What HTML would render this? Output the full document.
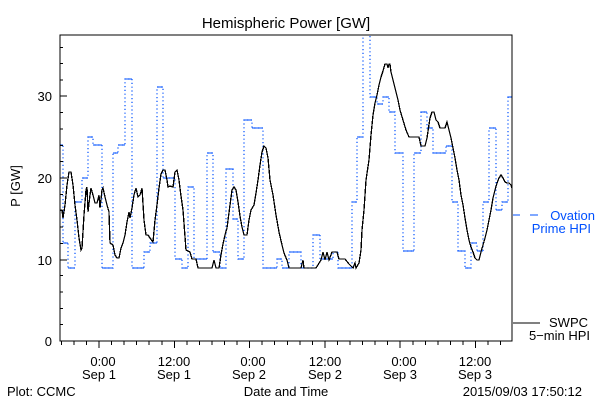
<!DOCTYPE html>
<html><head><meta charset="utf-8"><style>
html,body{margin:0;padding:0;background:#fff;}
svg{display:block;font-family:"Liberation Sans","DejaVu Sans",sans-serif;}
</style></head><body>
<svg width="600" height="400" viewBox="0 0 600 400" xmlns="http://www.w3.org/2000/svg">
<defs><clipPath id="c"><rect x="60" y="35" width="452" height="306"/></clipPath></defs>
<rect width="600" height="400" fill="#fff"/>
<text x="286" y="28" font-size="15" text-anchor="middle" fill="#000">Hemispheric Power [GW]</text>
<g clip-path="url(#c)" fill="none">
<polyline stroke="#0050ff" stroke-width="1.2" stroke-dasharray="1.2 2.6" points="60,145 63,145 63,243 68,243 68,268 75,268 75,202 82,202 82,178 88,178 88,137 93,137 93,145 102,145 102,268 113,268 113,153 118,153 118,145 125,145 125,79 132,79 132,268 144,268 144,252 150,252 150,243 157,243 157,87 163,87 163,178 175,178 175,259 182,259 182,268 188,268 188,187 194,187 194,259 207,259 207,153 213,153 213,252 220,252 220,268 226,268 226,169 233,169 233,219 238,219 238,259 244,259 244,120 252,120 252,128 263,128 263,268 277,268 277,259 282,259 282,268 289,268 289,252 301,252 301,268 313,268 313,235 320,235 320,259 333,259 333,252 338,252 338,268 352,268 352,202 357,202 357,137 363,137 363,20 370,20 370,97 377,97 377,104 383,104 383,97 389,97 389,112 395,112 395,153 403,153 403,251 414,251 414,153 421,153 421,112 427,112 427,128 433,128 433,153 446,153 446,146 452,146 452,202 458,202 458,251 465,251 465,268 471,268 471,243 477,243 477,251 483,251 483,202 489,202 489,128 496,128 496,210 502,210 502,202 508,202 508,97 512,97"/>
<g shape-rendering="crispEdges">
<path stroke="#0050ff" stroke-width="1.4" d="M60 145H63M63 243H68M68 268H75M75 202H82M82 178H88M88 137H93M93 145H102M102 268H113M113 153H118M118 145H125M125 79H132M132 268H144M144 252H150M150 243H157M157 87H163M163 178H175M175 259H182M182 268H188M188 187H194M194 259H207M207 153H213M213 252H220M220 268H226M226 169H233M233 219H238M238 259H244M244 120H252M252 128H263M263 268H277M277 259H282M282 268H289M289 252H301M301 268H313M313 235H320M320 259H333M333 252H338M338 268H352M352 202H357M357 137H363M370 97H377M377 104H383M383 97H389M389 112H395M395 153H403M403 251H414M414 153H421M421 112H427M427 128H433M433 153H446M446 146H452M452 202H458M458 251H465M465 268H471M471 243H477M477 251H483M483 202H489M489 128H496M496 210H502M502 202H508M508 97H512"/>
<polyline stroke="#000" stroke-width="1.3" points="60,210 62,210 63,218 65,205 67,185 69,172 71,172 73,185 75,205 77,220 79,238 81,250 82,248 84,215 86,190 87,187 88,212 90,195 91,188 93,195 95,203 97,203 99,195 100,208 102,190 103,188 105,197 107,205 109,212 110,243 113,245 115,255 117,258 119,258 121,248 123,243 125,235 127,222 129,212 130,218 132,208 134,195 136,188 138,197 140,195 142,188 144,220 146,235 148,235 150,238 153,242 155,220 157,205 159,188 161,174 163,170 165,170 167,180 168,187 170,186 173,187 175,172 177,170 179,180 181,196 183,210 186,250 188,251 190,252 192,259 196,259 198,268 212,268 214,260 216,268 219,268 221,255 223,244 225,235 227,228 230,205 232,190 234,187 236,190 238,202 240,216 242,227 244,235 247,235 249,220 251,210 254,205 256,193 258,180 260,165 262,152 264,146 266,148 268,158 270,180 273,195 276,215 279,232 282,245 284,253 287,260 289,268 301,268 303,260 304,268 316,268 321,260 323,252 325,260 327,252 329,260 332,252 337,252 339,259 345,259 349,264 353,268 355,263 356,268 359,263 361,250 362,230 364,210 366,180 369,160 371,135 373,115 375,103 377,95 378,90 379,85 381,77 383,71 385,64 387,64 388,68 389,64 390,64 391,72 393,80 395,88 398,100 400,110 403,120 406,130 409,137 419,137 421,146 425,146 427,138 430,118 432,112 434,112 436,120 438,122 440,128 445,128 447,122 449,130 451,138 453,148 455,158 457,170 459,180 461,195 463,205 465,218 467,230 469,240 471,247 473,252 475,258 477,260 479,260 481,252 483,245 485,238 487,230 489,220 491,210 493,198 495,190 497,183 499,178 501,175 503,178 505,182 507,183 509,183 511,185 512,188"/>
</g>
</g>
<g shape-rendering="crispEdges">
<path fill="none" stroke="#000" stroke-width="1.3" d="M60 35H512V341H60Z"/>
<path fill="none" stroke="#000" stroke-width="1" d="M60 341H67M60 260H67M60 178H67M60 96H67M60 324.6H63M60 308.3H63M60 292H63M60 275.6H63M60 243.3H63M60 227H63M60 210.6H63M60 194.3H63M60 161.6H63M60 145.3H63M60 129H63M60 112.6H63M60 80H63M60 63.6H63M60 47.3H63
M99 341V348M174.3 341V348M249.6 341V348M324.9 341V348M400.2 341V348M475.5 341V348
M61.4 341V345M74 341V345M86.5 341V345M111.6 341V345M124.1 341V345M136.7 341V345M149.2 341V345M161.8 341V345M186.9 341V345M199.4 341V345M212 341V345M224.5 341V345M237.1 341V345M262.2 341V345M274.7 341V345M287.3 341V345M299.8 341V345M312.4 341V345M337.5 341V345M350 341V345M362.6 341V345M375.1 341V345M387.7 341V345M412.8 341V345M425.3 341V345M437.9 341V345M450.4 341V345M463 341V345M488.1 341V345M500.6 341V345"/>
<path stroke="#0050ff" stroke-width="1.3" d="M513 215H520M530 215H538"/>
<path stroke="#000" stroke-width="1.3" d="M513 323H540"/>
</g>
<g font-size="13" fill="#000" text-anchor="end">
<text x="52" y="346">0</text><text x="52" y="265">10</text><text x="52" y="183">20</text><text x="52" y="101">30</text>
</g>
<text x="20" y="186" font-size="13" text-anchor="middle" transform="rotate(-90 20 186)">P [GW]</text>
<g font-size="13" fill="#000" text-anchor="middle">
<text x="103" y="366">0:00</text><text x="99" y="379">Sep 1</text>
<text x="174" y="366">12:00</text><text x="174" y="379">Sep 1</text>
<text x="253" y="366">0:00</text><text x="249" y="379">Sep 2</text>
<text x="325" y="366">12:00</text><text x="325" y="379">Sep 2</text>
<text x="404" y="366">0:00</text><text x="400" y="379">Sep 3</text>
<text x="475" y="366">12:00</text><text x="475" y="379">Sep 3</text>
<text x="286" y="396">Date and Time</text>
</g>
<text x="7" y="396" font-size="13">Plot: CCMC</text>
<text x="582" y="396" font-size="13" text-anchor="end">2015/09/03 17:50:12</text>
<text x="595" y="220" font-size="13" fill="#0050ff" text-anchor="end">Ovation</text>
<text x="591" y="233" font-size="13" fill="#0050ff" text-anchor="end">Prime HPI</text>
<text x="588" y="327" font-size="13" text-anchor="end">SWPC</text>
<text x="590" y="340" font-size="13" text-anchor="end">5−min HPI</text>
</svg>
</body></html>
